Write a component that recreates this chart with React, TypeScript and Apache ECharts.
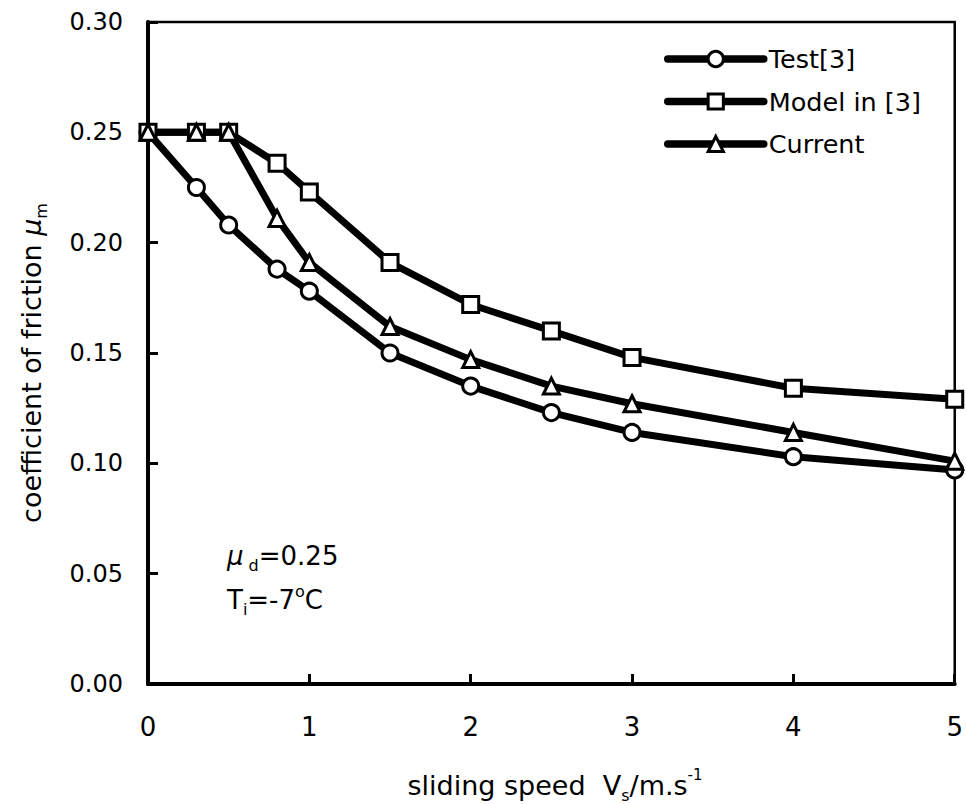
import React, { useEffect, useRef } from "react";
import * as echarts from "echarts";

const speeds = [0, 0.3, 0.5, 0.8, 1, 1.5, 2, 2.5, 3, 4, 5];
const testValues = [0.25, 0.225, 0.208, 0.188, 0.178, 0.15, 0.135, 0.123, 0.114, 0.103, 0.097];
const modelValues = [0.25, 0.25, 0.25, 0.236, 0.223, 0.191, 0.172, 0.16, 0.148, 0.134, 0.129];
const currentValues = [0.25, 0.25, 0.25, 0.211, 0.191, 0.162, 0.147, 0.135, 0.127, 0.114, 0.101];
const seriesNames = ["Test[3]", "Model in [3]", "Current"];
const seriesSymbols = ["circle", "rect", "triangle"];
const yTicks = ["0.00", "0.05", "0.10", "0.15", "0.20", "0.25", "0.30"];
const xTicks = ["0", "1", "2", "3", "4", "5"];

const FONT = "DejaVu Sans";

export default function App() {
  const ref = useRef<HTMLDivElement>(null);
  useEffect(() => {
    document.body.style.margin = "0";
    const chart = echarts.init(ref.current!, undefined, { renderer: "svg" });
    const all = [testValues, modelValues, currentValues];
    const symbolSizes = [16, 16, 16];
    const series = all.map((vals, i) => ({
      name: seriesNames[i],
      type: "line",
      data: speeds.map((s, j) => [s, vals[j]]),
      symbol: seriesSymbols[i],
      symbolSize: symbolSizes[i],
      clip: false,
      lineStyle: { color: "#000", width: 7, cap: "round", join: "round" },
      itemStyle: { color: "#fff", borderColor: "#000", borderWidth: 3 },
      emphasis: { disabled: true },
    }));
    chart.setOption({
      animation: false,
      textStyle: { fontFamily: FONT, color: "#000" },
      grid: {
        left: 148,
        right: 8,
        top: 22,
        bottom: 120,
        show: true,
        borderColor: "#000",
        borderWidth: 2.5,
        backgroundColor: "transparent",
      },
      legend: {
        orient: "vertical",
        left: 664,
        top: 46,
        padding: 0,
        itemWidth: 96,
        itemHeight: 19,
        itemGap: 16.5,
        data: seriesNames,
        textStyle: { fontFamily: FONT, fontSize: 25.5, color: "#000" },
        lineStyle: { color: "#000", width: 7.5, cap: "round" },
        itemStyle: { color: "#fff", borderColor: "#000", borderWidth: 3 },
      },
      xAxis: {
        type: "value",
        min: 0,
        max: 5,
        interval: 1,
        axisLine: { lineStyle: { color: "#000", width: 4 } },
        axisTick: { inside: true, length: 10, lineStyle: { color: "#000", width: 3 } },
        splitLine: { show: false },
        axisLabel: {
          margin: 30,
          fontSize: 26,
          fontFamily: FONT,
          color: "#000",
          formatter: (v: number) => xTicks[Math.round(v)] ?? String(v),
        },
      },
      yAxis: {
        type: "value",
        min: 0,
        max: 0.3,
        interval: 0.05,
        axisLine: { show: true, lineStyle: { color: "#000", width: 4 } },
        axisTick: { show: true, inside: true, length: 10, lineStyle: { color: "#000", width: 3 } },
        splitLine: { show: false },
        axisLabel: {
          margin: 25,
          fontSize: 24,
          fontFamily: FONT,
          color: "#000",
          formatter: (v: number) => yTicks[Math.round(v / 0.05)] ?? v.toFixed(2),
        },
      },
      graphic: [
        {
          type: "text",
          x: 31,
          y: 363,
          rotation: Math.PI / 2,
          style: {
            text: "{a|coefficient of friction }{mu|μ}{sub|m}",
            align: "center",
            verticalAlign: "middle",
            rich: {
              a: { fontFamily: FONT, fontSize: 27, lineHeight: 36, fill: "#000" },
              mu: { fontFamily: FONT, fontSize: 27, fontStyle: "italic", lineHeight: 36, fill: "#000" },
              sub: { fontFamily: FONT, fontSize: 16, lineHeight: 36, verticalAlign: "bottom", fill: "#000" },
            },
          },
        },
        {
          type: "text",
          x: 555,
          y: 785,
          style: {
            text: "{a|sliding speed  V}{sub|s}{a|/m.s}{sup|-1}",
            align: "center",
            verticalAlign: "middle",
            rich: {
              a: { fontFamily: FONT, fontSize: 27, lineHeight: 36, fill: "#000" },
              sub: { fontFamily: FONT, fontSize: 16, lineHeight: 36, verticalAlign: "bottom", fill: "#000" },
              sup: { fontFamily: FONT, fontSize: 15, lineHeight: 36, verticalAlign: "top", fill: "#000" },
            },
          },
        },
        {
          type: "text",
          x: 227,
          y: 556,
          style: {
            text: "{mu|μ}{sub| d}{a|=0.25}",
            align: "left",
            verticalAlign: "middle",
            rich: {
              a: { fontFamily: FONT, fontSize: 26, lineHeight: 34, fill: "#000" },
              mu: { fontFamily: FONT, fontSize: 26, fontStyle: "italic", lineHeight: 34, fill: "#000" },
              sub: { fontFamily: FONT, fontSize: 16, lineHeight: 34, verticalAlign: "bottom", fill: "#000" },
            },
          },
        },
        {
          type: "text",
          x: 227,
          y: 600,
          style: {
            text: "{a|T}{sub|i}{a|=-7}{sup|o}{a|C}",
            align: "left",
            verticalAlign: "middle",
            rich: {
              a: { fontFamily: FONT, fontSize: 26, lineHeight: 34, fill: "#000" },
              sub: { fontFamily: FONT, fontSize: 16, lineHeight: 34, verticalAlign: "bottom", fill: "#000" },
              sup: { fontFamily: FONT, fontSize: 16, lineHeight: 34, verticalAlign: "top", fill: "#000" },
            },
          },
        },
      ],
      series,
    });
    return () => chart.dispose();
  }, []);
  return <div ref={ref} style={{ width: 966, height: 804 }} />;
}
